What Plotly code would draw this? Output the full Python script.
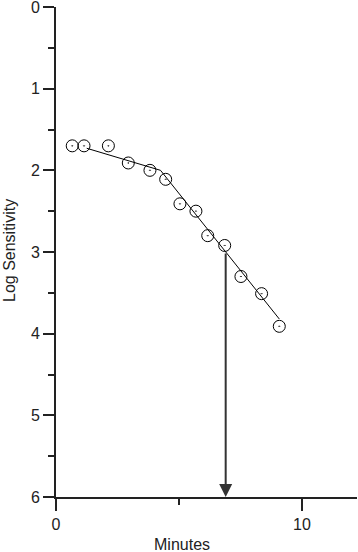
import plotly.graph_objects as go

# Data
minutes = [0.66, 1.14, 2.13, 2.94, 3.82, 4.46, 5.04, 5.69, 6.17, 6.86, 7.52, 8.36, 9.08]
log_sens = [1.70, 1.70, 1.70, 1.91, 2.00, 2.11, 2.41, 2.50, 2.80, 2.92, 3.30, 3.51, 3.91]

fit_x = [1.25, 4.25, 9.08]
fit_y = [1.73, 2.00, 3.82]

arrow_x = 6.9
arrow_y_start = 3.0
arrow_y_end = 6.0

x_tickvals = [0, 10]
y_tickvals = [0, 1, 2, 3, 4, 5, 6]

FONT = "Liberation Sans, Arial, sans-serif"
AX = "#222222"

fig = go.Figure()

fig.add_trace(go.Scatter(
    x=fit_x, y=fit_y, mode="lines",
    line=dict(color="black", width=1),
    hoverinfo="skip", showlegend=False, cliponaxis=False,
))

fig.add_trace(go.Scatter(
    x=minutes, y=log_sens, mode="markers",
    marker=dict(symbol="circle-open-dot", size=12, color="black",
                line=dict(color="black", width=1)),
    showlegend=False, cliponaxis=False,
))

fig.add_annotation(
    x=arrow_x, y=arrow_y_end, ax=arrow_x, ay=arrow_y_start,
    xref="x", yref="y", axref="x", ayref="y",
    showarrow=True, arrowhead=2, arrowsize=1.3, arrowwidth=2,
    arrowcolor="#333333", text="",
)

# axis titles as annotations for exact placement
fig.add_annotation(
    text="Log Sensitivity", xref="paper", yref="paper",
    x=(9 - 56) / 301, y=1 - (251 - 7) / 490, textangle=-90,
    showarrow=False, font=dict(family=FONT, size=16, color="#222222"),
    xanchor="center", yanchor="middle",
)
fig.add_annotation(
    text="Minutes", xref="paper", yref="paper",
    x=(182 - 56) / 301, y=-(544 - 497) / 490,
    showarrow=False, font=dict(family=FONT, size=16, color="#222222"),
    xanchor="center", yanchor="middle",
)

fig.update_xaxes(
    range=[0, 12.24], tickvals=x_tickvals, ticktext=[str(v) for v in x_tickvals],
    showgrid=False, zeroline=False, showline=True, linecolor=AX, linewidth=2,
    ticks="outside", ticklen=12, tickwidth=2, tickcolor=AX, automargin=False,
    ticklabeloverflow="allow",
    minor=dict(dtick=5, tick0=0, ticks="outside", ticklen=6, tickwidth=2, tickcolor=AX, showgrid=False),
    tickfont=dict(family=FONT, size=16, color="#222222"),
)
fig.update_yaxes(
    range=[6, 0], tickvals=y_tickvals, ticktext=[str(v) for v in y_tickvals],
    showgrid=False, zeroline=False, showline=True, linecolor=AX, linewidth=2,
    ticks="outside", ticklen=11, tickwidth=2, tickcolor=AX, automargin=False,
    ticklabeloverflow="allow",
    minor=dict(dtick=0.5, tick0=0, ticks="outside", ticklen=6, tickwidth=2, tickcolor=AX, showgrid=False),
    tickfont=dict(family=FONT, size=16, color="#222222"),
)

fig.update_layout(
    width=358, height=552,
    margin=dict(l=56, r=1, t=7, b=55, autoexpand=False),
    plot_bgcolor="white", paper_bgcolor="white",
    showlegend=False,
)

fig.write_html(
    "out.html",
    config={"displayModeBar": False},
    post_script="document.body.style.margin='0';document.body.style.padding='0';document.body.style.overflow='hidden';",
)
